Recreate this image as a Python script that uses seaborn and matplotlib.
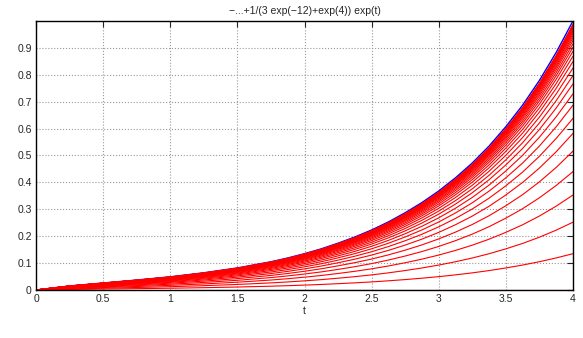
import numpy as np
import pandas as pd
import seaborn as sns
import matplotlib.pyplot as plt

# sample points along t and the blue (limit) curve
t = [0, 0.25, 0.5, 0.75, 1.0, 1.25, 1.5, 1.75, 1.875, 2.0, 2.125, 2.25, 2.375, 2.5,
     2.625, 2.75, 2.875, 3.0, 3.125, 3.25, 3.375, 3.5, 3.625, 3.75, 3.875, 4.0]
blue = [0, 0.015, 0.026, 0.037, 0.049, 0.064, 0.082, 0.105, 0.119, 0.135, 0.153,
        0.174, 0.197, 0.223, 0.253, 0.287, 0.325, 0.368, 0.417, 0.472, 0.535,
        0.607, 0.687, 0.779, 0.883, 1.0]

# value of each red iterate at t = 4 (each red curve has the blue curve's shape)
red_end = [0.0, 0.135, 0.252, 0.353, 0.440, 0.516, 0.582, 0.638, 0.687, 0.729, 0.766,
           0.797, 0.825, 0.849, 0.869, 0.887, 0.902, 0.915, 0.927, 0.937, 0.945,
           0.953, 0.959, 0.965, 0.970, 0.974, 0.977, 0.980, 0.983, 0.985, 0.987]

xticks = [0, 0.5, 1, 1.5, 2, 2.5, 3, 3.5, 4]
yticks = [0, 0.1, 0.2, 0.3, 0.4, 0.5, 0.6, 0.7, 0.8, 0.9]
title = '\u2212...+1/(3 exp(\u221212)+exp(4)) exp(t)'

rows = []
for k, e in enumerate(red_end):
    for ti, b in zip(t, blue):
        rows.append({'t': ti, 'y': b * e, 'curve': k})
red_df = pd.DataFrame(rows)
blue_df = pd.DataFrame({'t': t, 'y': blue})

sns.set_style('white')
plt.rcParams['font.family'] = ['Liberation Sans', 'DejaVu Sans']

fig = plt.figure(figsize=(5.83, 3.38), dpi=100)
ax = fig.add_axes([0.0618, 0.142, 0.921, 0.796])

sns.lineplot(data=blue_df, x='t', y='y', color='blue', lw=1.0, ax=ax)
sns.lineplot(data=red_df, x='t', y='y', units='curve', estimator=None,
             color='red', lw=0.8, ax=ax, legend=False)

ax.set_xlim(0, 4)
ax.set_ylim(0, 1)
ax.set_xticks(xticks)
ax.set_xticklabels([f'{v:g}' for v in xticks])
ax.set_yticks(yticks)
ax.set_yticklabels([f'{v:g}' for v in yticks])
ax.grid(True, color='#999999', linestyle=':', linewidth=0.8)
ax.tick_params(direction='in', length=4, width=0.8, labelsize=7.5, pad=3,
               top=True, right=True)
for s in ax.spines.values():
    s.set_color('black')
    s.set_linewidth(1.0)
ax.set_xlabel('t', fontsize=7.5, labelpad=1)
ax.set_ylabel('')
ax.set_title(title, fontsize=7.5, pad=5)

fig.savefig('out.png', dpi=100)
